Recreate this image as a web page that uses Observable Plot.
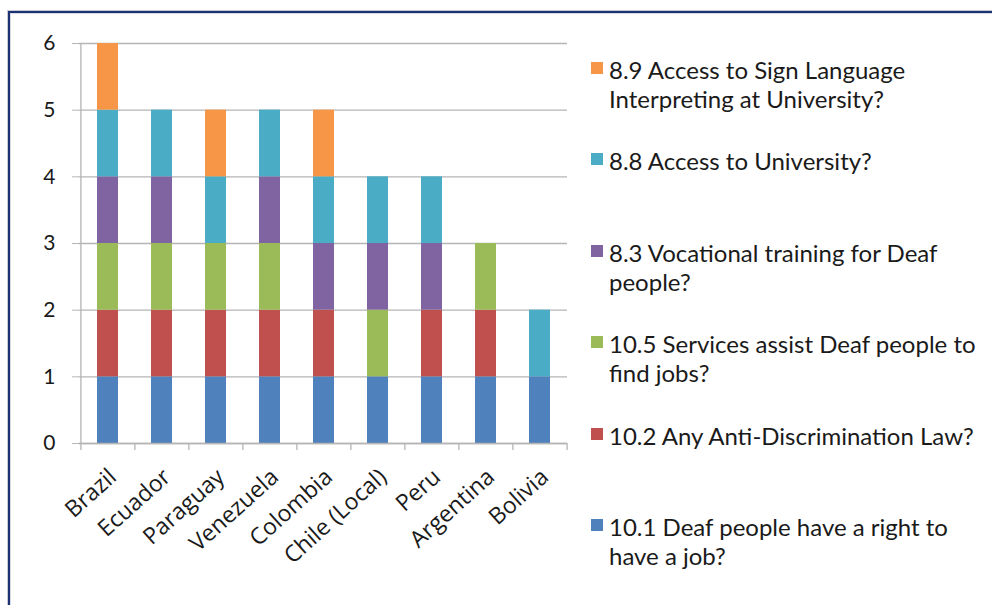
<!DOCTYPE html>
<html><head><meta charset="utf-8">
<script src="https://cdn.jsdelivr.net/npm/d3@7"></script>
<script src="https://cdn.jsdelivr.net/npm/@observablehq/plot@0.6"></script>
<style>
html,body{margin:0;padding:0;background:#fff;}
#page{position:relative;width:992px;height:605px;overflow:hidden;background:#fff;font-family:Lato, sans-serif;}
#frame{position:absolute;left:8px;top:11px;width:1000px;height:700px;border-left:2px solid #1d3272;border-top:2px solid #1d3272;box-shadow:-1px -1px 0 #c5cad6, inset 1px 1px 0 #d6dae3;}
#chart{position:absolute;left:0;top:0;}
#legend{position:absolute;left:590px;top:55px;width:400px;}
.item{position:relative;height:91.4px;}
.sw{position:absolute;left:1px;top:7px;width:12px;height:12px;}
.lab{position:absolute;left:19px;top:0;font-size:24px;line-height:29px;color:#1a1a1a;white-space:nowrap;}
</style></head>
<body>
<div id="page"><div id="frame"></div><div id="chart"></div><div id="legend"></div></div>
<script>
// Categories
const countries = ["Brazil","Ecuador","Paraguay","Venezuela","Colombia","Chile (Local)","Peru","Argentina","Bolivia"];
// Series labels (bottom of stack first), as displayed lines in the legend
const seriesLines = [
  ["10.1 Deaf people have a right to", "have a job?"],
  ["10.2 Any Anti-Discrimination Law?"],
  ["10.5 Services assist Deaf people to", "find jobs?"],
  ["8.3 Vocational training for Deaf", "people?"],
  ["8.8 Access to University?"],
  ["8.9 Access to Sign Language", "Interpreting at University?"]
];
const seriesColors = ["#4f81bd","#c0504d","#9bbb59","#8064a2","#4bacc6","#f79646"];
// Values (1 = yes) per series, in country order
const q10_1 = [1,1,1,1,1,1,1,1,1];
const q10_2 = [1,1,1,1,1,0,1,1,0];
const q10_5 = [1,1,1,1,0,1,0,1,0];
const q8_3  = [1,1,0,1,1,1,1,0,0];
const q8_8  = [1,1,1,1,1,1,1,0,1];
const q8_9  = [1,0,1,0,1,0,0,0,0];
const yTicks = [0,1,2,3,4,5,6];

const seriesValues = [q10_1,q10_2,q10_5,q8_3,q8_8,q8_9];
const seriesNames = seriesLines.map(l => l.join(" "));
const data = [];
seriesValues.forEach((vals, s) => vals.forEach((v, i) => data.push({country: countries[i], series: seriesNames[s], value: v})));

const W = 600, H = 600, mL = 79, mR = 33, mT = 43, mB = 157;
const step = (W - mL - mR) / countries.length;

const chart = Plot.plot({
  width: W, height: H,
  marginLeft: mL, marginRight: mR, marginTop: mT, marginBottom: mB,
  style: {fontFamily: "Lato, sans-serif", background: "transparent", color: "#1a1a1a"},
  x: {domain: countries, paddingInner: 0.62, paddingOuter: 0.31, label: null},
  y: {domain: [0, 6], label: null},
  color: {domain: seriesNames, range: seriesColors},
  marks: [
    Plot.gridY(yTicks, {stroke: "#b5b5b5", strokeOpacity: 1, strokeWidth: 1.3}),
    Plot.barY(data, {x: "country", y: "value", fill: "series", order: seriesNames}),
    Plot.ruleX([0], {x: () => countries[0], stroke: "#b5b5b5", strokeWidth: 1.3, dx: -step/2}),
    Plot.ruleY([0], {stroke: "#b5b5b5", strokeWidth: 1.3}),
    Plot.ruleX(countries, {x: d => d, y1: 0, y2: 0, insetTop: 7, stroke: "#b5b5b5", strokeWidth: 1.3, dx: -step/2}),
    Plot.ruleX([countries[countries.length-1]], {x: d => d, y1: 0, y2: 0, insetTop: 7, stroke: "#b5b5b5", strokeWidth: 1.3, dx: step/2}),
    Plot.axisY(yTicks, {tickSize: 7, tickPadding: 17, tickFormat: d => String(d), stroke: "#b5b5b5", fontSize: 21, fill: "#1a1a1a", label: null}),
    Plot.axisX({tickSize: 0, tickPadding: 30, dx: 5, tickRotate: -42, fontSize: 23, fontFamily: "'Open Sans', sans-serif", fill: "#1a1a1a", label: null})
  ]
});
document.getElementById("chart").appendChild(chart);

const legend = document.getElementById("legend");
for (let s = seriesLines.length - 1; s >= 0; s--) {
  const item = document.createElement("div");
  item.className = "item";
  const sw = document.createElement("div");
  sw.className = "sw";
  sw.style.background = seriesColors[s];
  const lab = document.createElement("div");
  lab.className = "lab";
  lab.innerHTML = seriesLines[s].join("<br>");
  item.appendChild(sw); item.appendChild(lab);
  legend.appendChild(item);
}
</script>
</body></html>
